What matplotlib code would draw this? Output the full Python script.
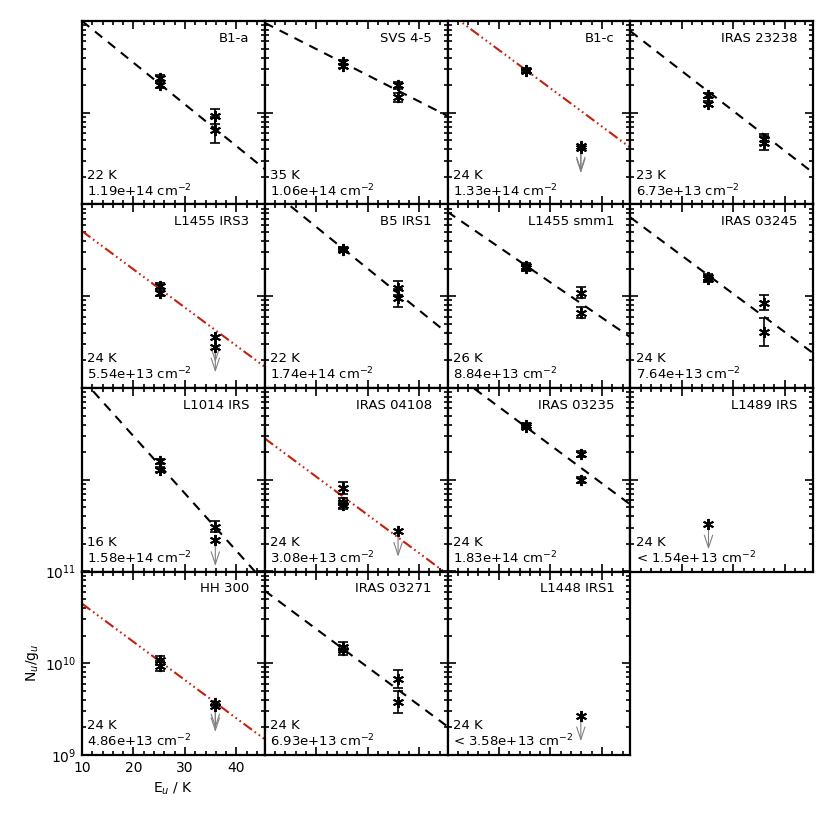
import numpy as np
import matplotlib
matplotlib.use("Agg")
import matplotlib.pyplot as plt
from matplotlib.ticker import LogLocator, MultipleLocator, NullFormatter, FixedLocator

# source names, fit temperatures and column densities (panel order, row by row)
names = ["B1-a", "SVS 4-5", "B1-c", "IRAS 23238",
         "L1455 IRS3", "B5 IRS1", "L1455 smm1", "IRAS 03245",
         "L1014 IRS", "IRAS 04108", "IRAS 03235", "L1489 IRS",
         "HH 300", "IRAS 03271", "L1448 IRS1"]
temps = [22, 35, 24, 23, 24, 22, 26, 24, 16, 24, 24, 24, 24, 24, 24]
col_dens = ["1.19e+14", "1.06e+14", "1.33e+14", "6.73e+13",
            "5.54e+13", "1.74e+14", "8.84e+13", "7.64e+13",
            "1.58e+14", "3.08e+13", "1.83e+14", "< 1.54e+13",
            "4.86e+13", "6.93e+13", "< 3.58e+13"]
# fit kind: 'fit' = free fit (black dashed), 'fix' = fixed T (red), '' = no line
fit_kind = ["fit", "fit", "fix", "fit", "fix", "fit", "fit", "fit",
            "fit", "fix", "fit", "", "fix", "fit", ""]
# log10(N_u/g_u) of the fit line at E_u = 10 K
fit_log0 = [11.00, 10.98, 11.10, 10.89, 10.71, 11.21, 10.92, 10.86,
            11.10, 10.45, 11.21, np.nan, 10.65, 10.79, np.nan]

# measured points: panel index, E_u, log10(N_u/g_u), error (dex), upper limit flag
pt_panel = [0, 0, 0, 0, 1, 1, 1, 1, 2, 2, 2, 2, 3, 3, 3, 3,
            4, 4, 4, 4, 5, 5, 5, 5, 6, 6, 6, 6, 7, 7, 7, 7,
            8, 8, 8, 8, 9, 9, 9, 9, 10, 10, 10, 10, 11,
            12, 12, 12, 12, 13, 13, 13, 13, 14]
pt_E = [25.2, 25.2, 35.9, 35.9, 25.2, 25.2, 35.9, 35.9, 25.2, 25.2, 35.9, 35.9,
        25.2, 25.2, 35.9, 35.9, 25.2, 25.2, 35.9, 35.9, 25.2, 25.2, 35.9, 35.9,
        25.2, 25.2, 35.9, 35.9, 25.2, 25.2, 35.9, 35.9, 25.2, 25.2, 35.9, 35.9,
        25.2, 25.2, 25.2, 35.9, 25.2, 25.2, 35.9, 35.9, 25.2,
        25.2, 25.2, 35.9, 35.9, 25.2, 25.2, 35.9, 35.9, 35.9]
pt_log = [10.38, 10.30, 9.96, 9.81, 10.55, 10.51, 10.30, 10.17,
          10.47, 10.45, 9.64, 9.62, 10.19, 10.10, 9.71, 9.67,
          10.11, 10.03, 9.56, 9.45, 10.52, 10.50, 10.09, 9.98,
          10.33, 10.31, 10.04, 9.82, 10.21, 10.19, 9.93, 9.61,
          10.20, 10.11, 9.49, 9.34, 9.91, 9.76, 9.72, 9.44,
          10.60, 10.58, 10.28, 10.00, 9.52,
          10.03, 9.97, 9.57, 9.53, 10.18, 10.14, 9.83, 9.58, 9.43]
pt_err = [0.03, 0.03, 0.08, 0.14, 0.02, 0.02, 0.04, 0.05,
          0.02, 0.02, 0, 0, 0.03, 0.03, 0.06, 0.08,
          0.03, 0.03, 0, 0, 0.02, 0.02, 0.08, 0.10,
          0.03, 0.03, 0.06, 0.06, 0.03, 0.03, 0.08, 0.15,
          0.03, 0.03, 0.06, 0, 0.07, 0.04, 0.04, 0,
          0.02, 0.02, 0.03, 0.03, 0,
          0.05, 0.05, 0, 0, 0.05, 0.05, 0.10, 0.12, 0]
pt_upper = [0, 0, 0, 0, 0, 0, 0, 0, 0, 0, 1, 1, 0, 0, 0, 0,
            0, 0, 1, 1, 0, 0, 0, 0, 0, 0, 0, 0, 0, 0, 0, 0,
            0, 0, 0, 1, 0, 0, 0, 1, 0, 0, 0, 0, 1,
            0, 0, 1, 1, 0, 0, 0, 0, 1]

RED = "#c4200c"
x_lo, x_hi = 10, 45.5
star = (6, 2, 0)

fig = plt.figure(figsize=(8.3, 8.3), dpi=100)
left, right, top, bottom = 82 / 830, 813 / 830, 1 - 21 / 830, 1 - 755 / 830
w = (right - left) / 4
h = (top - bottom) / 4

pt_panel = np.array(pt_panel)
pt_E = np.array(pt_E)
pt_log = np.array(pt_log)
pt_err = np.array(pt_err)
pt_upper = np.array(pt_upper)

for i, name in enumerate(names):
    r, c = divmod(i, 4)
    ax = fig.add_axes([left + c * w, top - (r + 1) * h, w, h])
    ax.set_yscale("log")
    ax.set_xlim(x_lo, x_hi)
    ax.set_ylim(1e9, 1e11)

    # fit line: log10(N/g) = a - (E - 10) / T
    if fit_kind[i]:
        ee = np.array([x_lo, x_hi])
        yy = 10 ** (fit_log0[i] - (ee - 10) / temps[i])
        if fit_kind[i] == "fit":
            ax.plot(ee, yy, color="black", lw=1.5, dashes=(4.5, 3.5), zorder=2)
        else:
            ax.plot(ee, yy, color=RED, lw=1.5,
                    dashes=(5, 1.6, 0.8, 1.6, 0.8, 1.6, 0.8, 1.6), zorder=2)

    sel = pt_panel == i
    for e, lg, er, up in zip(pt_E[sel], pt_log[sel], pt_err[sel], pt_upper[sel]):
        y = 10 ** lg
        if up:
            ax.annotate("", xy=(e, 10 ** (lg - 0.31)), xytext=(e, y),
                        arrowprops=dict(arrowstyle="->,head_length=0.9,head_width=0.3",
                                        color="#808080", lw=0.8), zorder=3)
        elif er > 0:
            yerr = [[y - 10 ** (lg - er)], [10 ** (lg + er) - y]]
            ax.errorbar([e], [y], yerr=yerr, fmt="none", ecolor="black",
                        elinewidth=1.2, capsize=3.5, capthick=1.2, zorder=4)
        ax.plot([e], [y], marker=star, ms=8, mew=1.4, color="black",
                ls="none", zorder=5)

    ax.text(0.915, 0.905, name, transform=ax.transAxes, ha="right", va="center",
            fontsize=9.5)
    ax.text(0.03, 0.16, f"{temps[i]} K", transform=ax.transAxes, ha="left",
            va="center", fontsize=9.5)
    ax.text(0.03, 0.075, f"{col_dens[i]} cm$^{{-2}}$", transform=ax.transAxes,
            ha="left", va="center", fontsize=9.5)

    ax.xaxis.set_major_locator(MultipleLocator(10))
    ax.xaxis.set_minor_locator(MultipleLocator(2))
    ax.yaxis.set_major_locator(FixedLocator([1e9, 1e10, 1e11]))
    ax.yaxis.set_minor_locator(LogLocator(base=10, subs=np.arange(2, 10)))
    ax.tick_params(which="both", direction="in", top=True, right=True, width=1.2)
    ax.tick_params(which="major", length=6)
    ax.tick_params(which="minor", length=3)
    for sp in ax.spines.values():
        sp.set_linewidth(1.6)

    if i == 12:
        ax.tick_params(labelsize=10, pad=4)
        ax.set_xlabel("E$_u$ / K", fontsize=10)
        ax.set_ylabel("N$_u$/g$_u$", fontsize=10, labelpad=3)
    else:
        ax.xaxis.set_major_formatter(NullFormatter())
        ax.yaxis.set_major_formatter(NullFormatter())
    ax.yaxis.set_minor_formatter(NullFormatter())

fig.savefig("out.png", dpi=100)
